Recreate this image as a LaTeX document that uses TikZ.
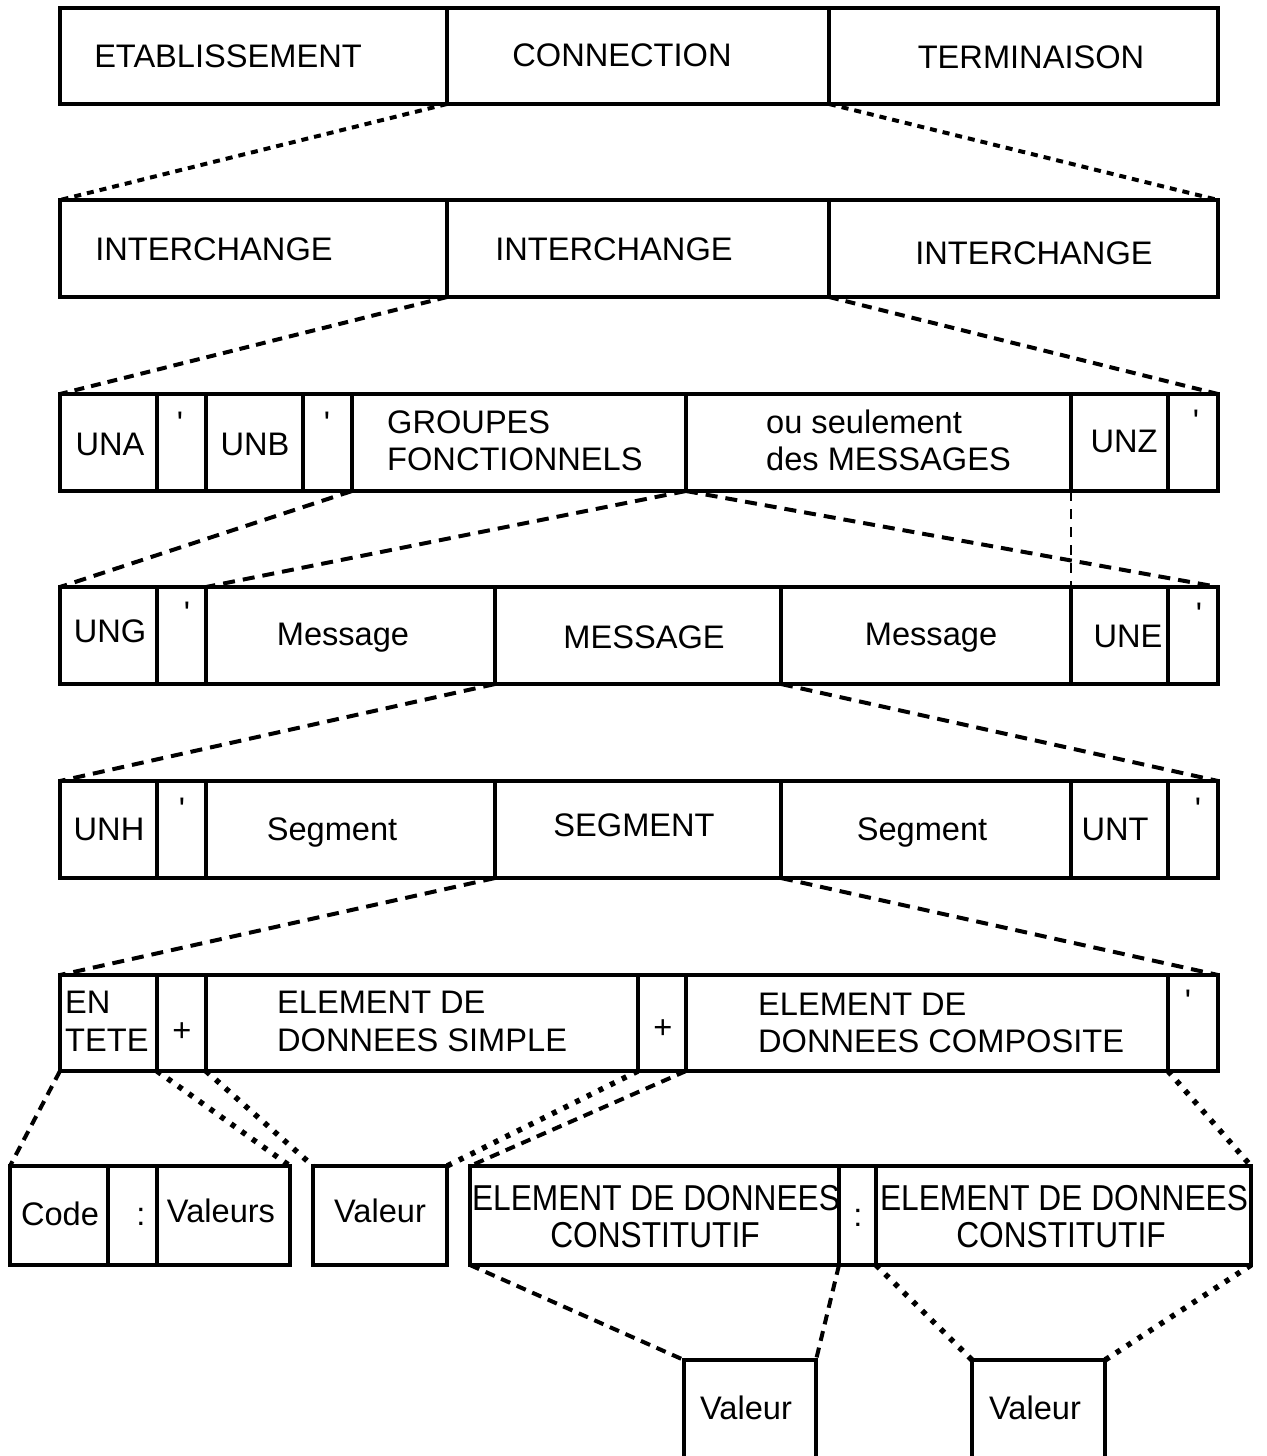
\documentclass[tikz,border=0pt]{standalone}
\usepackage{fontspec}
\setmainfont{Liberation Sans}
% cell of a segment bar: name, left x, right x, top y, bottom y
\newcommand\edicell[5]{%
  \pgfmathsetmacro\cw{#3-#2}\pgfmathsetmacro\ch{#5-#4}%
  \node[cellbox, minimum width=\cw pt, minimum height=\ch pt] (#1) at (#2,#4) {};}
\begin{document}
\begin{tikzpicture}[x=1pt,y=-1pt,
  cellbox/.style={draw, line width=3.4pt, rectangle, inner sep=0pt, outer sep=0pt, anchor=north west},
  lbl/.style={inner sep=0pt, anchor=base, font=\fontsize{32.6}{38}\selectfont},
  lbll/.style={lbl, anchor=base west},
  tall/.style={lbl, font=\fontsize{36}{40}\selectfont, xscale=0.88, transform shape},
  dashA/.style={line width=4pt, dash pattern=on 7pt off 6pt},
  dashB/.style={line width=4pt, dash pattern=on 10pt off 7pt},
  dashC/.style={line width=4pt, dash pattern=on 12pt off 8pt},
  dashT/.style={line width=2.8pt, dash pattern=on 10pt off 8pt},
  dotl/.style={line width=5.5pt, dash pattern=on 5pt off 8pt},
]
\useasboundingbox (0,0) rectangle (1266,1456);

% ---- connection
\edicell{r1a}{60}{447}{8}{104}
\edicell{r1b}{447}{829}{8}{104}
\edicell{r1c}{829}{1218}{8}{104}
\node[lbl] (t1a) at (228,67) {ETABLISSEMENT};
\node[lbl] (t1b) at (622,66) {CONNECTION};
\node[lbl] (t1c) at (1031,68) {TERMINAISON};

% ---- interchanges
\edicell{r2a}{60}{447}{200}{297}
\edicell{r2b}{447}{829}{200}{297}
\edicell{r2c}{829}{1218}{200}{297}
\node[lbl] (t2a) at (214,260) {INTERCHANGE};
\node[lbl] (t2b) at (614,260) {INTERCHANGE};
\node[lbl] (t2c) at (1034,264) {INTERCHANGE};

% ---- interchange content
\edicell{una}{60}{157}{394}{491}
\edicell{q3a}{157}{206}{394}{491}
\edicell{unb}{206}{303}{394}{491}
\edicell{q3b}{303}{352}{394}{491}
\edicell{grp}{352}{686}{394}{491}
\edicell{msgs}{686}{1071}{394}{491}
\edicell{unz}{1071}{1168}{394}{491}
\edicell{q3c}{1168}{1218}{394}{491}
\node[lbl] (tuna) at (110,455) {UNA};
\node[lbl] (tq3a) at (180,434) {\textquotesingle};
\node[lbl] (tunb) at (255,455) {UNB};
\node[lbl] (tq3b) at (327,434) {\textquotesingle};
\node[lbll] (tgrp1) at (387,433) {GROUPES};
\node[lbll] (tgrp2) at (387,470) {FONCTIONNELS};
\node[lbll] (tmsgs1) at (766,433) {ou seulement};
\node[lbll] (tmsgs2) at (766,470) {des MESSAGES};
\node[lbl] (tunz) at (1124,452) {UNZ};
\node[lbl] (tq3c) at (1196,432) {\textquotesingle};

% ---- functional group
\edicell{ung}{60}{157}{587}{684}
\edicell{q4a}{157}{206}{587}{684}
\edicell{msg1}{206}{495}{587}{684}
\edicell{msgM}{495}{781}{587}{684}
\edicell{msg2}{781}{1071}{587}{684}
\edicell{une}{1071}{1168}{587}{684}
\edicell{q4b}{1168}{1218}{587}{684}
\node[lbl] (tung) at (110,642) {UNG};
\node[lbl] (tq4a) at (187,624) {\textquotesingle};
\node[lbl] (tmsg1) at (343,645) {Message};
\node[lbl] (tmsgM) at (644,648) {MESSAGE};
\node[lbl] (tmsg2) at (931,645) {Message};
\node[lbl] (tune) at (1128,647) {UNE};
\node[lbl] (tq4b) at (1199,625) {\textquotesingle};

% ---- message
\edicell{unh}{60}{157}{781}{878}
\edicell{q5a}{157}{206}{781}{878}
\edicell{seg1}{206}{495}{781}{878}
\edicell{segM}{495}{781}{781}{878}
\edicell{seg2}{781}{1071}{781}{878}
\edicell{unt}{1071}{1168}{781}{878}
\edicell{q5b}{1168}{1218}{781}{878}
\node[lbl] (tunh) at (109,840) {UNH};
\node[lbl] (tq5a) at (182,820) {\textquotesingle};
\node[lbl] (tseg1) at (332,840) {Segment};
\node[lbl] (tsegM) at (634,836) {SEGMENT};
\node[lbl] (tseg2) at (922,840) {Segment};
\node[lbl] (tunt) at (1115,840) {UNT};
\node[lbl] (tq5b) at (1198,820) {\textquotesingle};

% ---- segment
\edicell{ente}{60}{157}{975}{1071}
\edicell{plusA}{157}{206}{975}{1071}
\edicell{simple}{206}{638}{975}{1071}
\edicell{plusB}{638}{686}{975}{1071}
\edicell{compo}{686}{1168}{975}{1071}
\edicell{q6}{1168}{1218}{975}{1071}
\node[lbll] (tente1) at (65,1013) {EN};
\node[lbll] (tente2) at (65,1051) {TETE};
\node[lbl] (tplusA) at (182,1041) {+};
\node[lbll] (tsimple1) at (277,1013) {ELEMENT DE};
\node[lbll] (tsimple2) at (277,1051) {DONNEES SIMPLE};
\node[lbl] (tplusB) at (663,1038) {+};
\node[lbll] (tcompo1) at (758,1015) {ELEMENT DE};
\node[lbll] (tcompo2) at (758,1052) {DONNEES COMPOSITE};
\node[lbl] (tq6) at (1188,1012) {\textquotesingle};

% ---- data elements
\edicell{code}{10}{108}{1166}{1265}
\edicell{colA}{108}{157}{1166}{1265}
\edicell{vals}{157}{290}{1166}{1265}
\edicell{val}{313}{447}{1166}{1265}
\edicell{cst1}{470}{839}{1166}{1265}
\edicell{colB}{839}{876}{1166}{1265}
\edicell{cst2}{876}{1251}{1166}{1265}
\node[lbl] (tcode) at (60,1225) {Code};
\node[lbl] (tcolA) at (141,1225) {:};
\node[lbl] (tvals) at (221,1222) {Valeurs};
\node[lbl] (tval) at (380,1222) {Valeur};
\node[tall] (tcst1a) at (656,1210) {ELEMENT DE DONNEES};
\node[tall] (tcst1b) at (655,1247) {CONSTITUTIF};
\node[lbl] (tcolB) at (858,1226) {:};
\node[tall] (tcst2a) at (1064,1210) {ELEMENT DE DONNEES};
\node[tall] (tcst2b) at (1061,1247) {CONSTITUTIF};

% ---- component values
\edicell{valA}{684}{816}{1360}{1470}
\edicell{valB}{972}{1105}{1360}{1470}
\node[lbl] (tvalA) at (746,1419) {Valeur};
\node[lbl] (tvalB) at (1035,1419) {Valeur};

% ---- expansion lines
\draw[dashA] (r1b.south west) -- (r2a.north west);
\draw[dashA] (r1b.south east) -- (r2c.north east);
\draw[dashB] (r2b.south west) -- (una.north west);
\draw[dashB] (r2b.south east) -- (q3c.north east);
\draw[dashC] (grp.south west) -- (ung.north west);
\draw[dashC] (grp.south east) -- (msg1.north west);
\draw[dashC] (grp.south east) -- (q4b.north east);
\draw[dashT] (unz.south west) -- (une.north west);
\draw[dashC] (msgM.south west) -- (unh.north west);
\draw[dashC] (msgM.south east) -- (q5b.north east);
\draw[dashC] (segM.south west) -- (ente.north west);
\draw[dashC] (segM.south east) -- (q6.north east);

\draw[dashB] (ente.south west) -- (code.north west);
\draw[dotl] (ente.south east) -- (vals.north east);
\draw[dotl] (plusA.south east) -- (val.north west);
\draw[dotl] (simple.south east) -- (val.north east);
\draw[dashB] (compo.south west) -- (cst1.north west);
\draw[dotl] (compo.south east) -- (cst2.north east);

\draw[dashB] (cst1.south west) -- (valA.north west);
\draw[dashB] (colB.south west) -- (valA.north east);
\draw[dotl] (colB.south east) -- (valB.north west);
\draw[dotl] (cst2.south east) -- (valB.north east);
\end{tikzpicture}
\end{document}
